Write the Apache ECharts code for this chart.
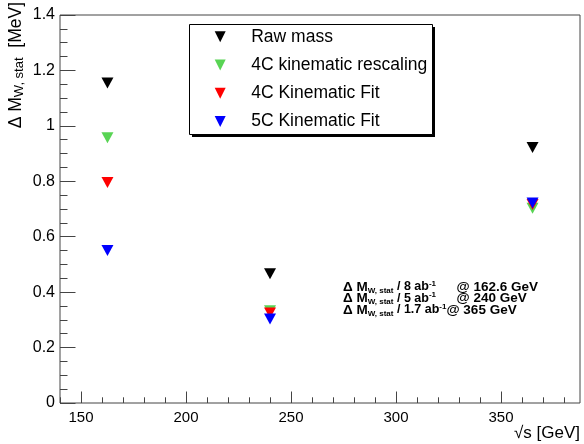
<!DOCTYPE html>
<html>
<head>
<meta charset="utf-8">
<script src="https://cdn.jsdelivr.net/npm/echarts@6/dist/echarts.min.js"></script>
<style>html,body{margin:0;padding:0;background:#fff}#c{width:584px;height:444px}</style>
</head>
<body>
<div id="c"></div>
<script>
// ---- data ----
var energies = [162.6, 240, 365];
var seriesNames = ['Raw mass', '4C kinematic rescaling', '4C Kinematic Fit', '5C Kinematic Fit'];
var rawMass = [1.155, 0.466, 0.922];
var kinRescale4C = [0.957, 0.333, 0.703];
var kinFit4C = [0.796, 0.325, 0.716];
var kinFit5C = [0.55, 0.303, 0.722];
var seriesColors = ['#000000', '#59d454', '#ff0000', '#0000ff'];
var xMajorTicks = [150, 200, 250, 300, 350];
var xMinorTicks = [140, 150, 160, 170, 180, 190, 200, 210, 220, 230, 240, 250, 260, 270, 280, 290, 300, 310, 320, 330, 340, 350, 360, 370, 380];
var lumiLabels = ['8', '5', '1.7'];
var energyLabels = ['162.6 GeV', '240 GeV', '365 GeV'];

var FONT = 'Liberation Sans';
var values = [rawMass, kinRescale4C, kinFit4C, kinFit5C];

function pts(arr) { return energies.map(function (e, i) { return [e, arr[i]]; }); }

var series = seriesNames.map(function (n, k) {
  return {
    name: n, type: 'scatter', xAxisIndex: 0, yAxisIndex: 0,
    data: pts(values[k]),
    symbol: 'triangle', symbolRotate: 180, symbolSize: [12, 11],
    itemStyle: { color: seriesColors[k], opacity: 1 },
    emphasis: { disabled: true }
  };
});

var G_LEFT = 60, G_TOP = 15, G_RIGHT = 580, G_BOTTOM = 403;

var annot = [];
var rowY = [287, 298.5, 310];
var rich = {
  b: { fontFamily: FONT, fontWeight: 'bold', fontSize: 13.5, lineHeight: 15, fill: '#000' },
  s: { fontFamily: FONT, fontWeight: 'bold', fontSize: 12.5, lineHeight: 15, fill: '#000' },
  sub: { fontFamily: FONT, fontWeight: 'bold', fontSize: 8, lineHeight: 8, verticalAlign: 'bottom', fill: '#000' },
  sup: { fontFamily: FONT, fontWeight: 'bold', fontSize: 8, lineHeight: 8, verticalAlign: 'top', fill: '#000' }
};
for (var i = 0; i < 3; i++) {
  var txt = '{b|Δ M}{sub|W, stat}{s| / ' + lumiLabels[i] + ' ab}{sup|-1}';
  if (i === 2) txt += '{b|@ ' + energyLabels[i] + '}';
  annot.push({
    type: 'text', x: 343, y: rowY[i], z: 100,
    style: { text: txt, rich: rich, verticalAlign: 'middle', align: 'left' }
  });
  if (i < 2) {
    annot.push({
      type: 'text', x: 456.5, y: rowY[i], z: 100,
      style: { text: '{b|@ ' + energyLabels[i] + '}', rich: rich, verticalAlign: 'middle', align: 'left' }
    });
  }
}

var graphics = [
  // legend shadow and box
  { type: 'rect', shape: { x: 192, y: 27, width: 243, height: 110 }, style: { fill: '#000' }, z: 1 },
  { type: 'rect', shape: { x: 189.5, y: 24.5, width: 243, height: 110 }, style: { fill: '#fff', stroke: '#000', lineWidth: 1 }, z: 2 },
  // y axis title
  { type: 'text', x: 16, y: 2, rotation: Math.PI / 2, z: 100,
    style: { text: '{a|Δ M}{s|W, stat}{a|  [MeV]}', align: 'right', verticalAlign: 'middle',
      rich: {
        a: { fontFamily: FONT, fontSize: 17.5, lineHeight: 20, fill: '#000' },
        s: { fontFamily: FONT, fontSize: 13, lineHeight: 12, verticalAlign: 'bottom', fill: '#000' }
      } } },
  // x axis title
  { type: 'text', x: 580, y: 433, z: 100,
    style: { text: '√s [GeV]', fontFamily: FONT, fontSize: 17, fill: '#000', align: 'right', verticalAlign: 'middle' } }
].concat(annot);

var chart = echarts.init(document.getElementById('c'), null, { renderer: 'canvas' });
chart.setOption({
  animation: false,
  backgroundColor: '#fff',
  grid: { left: G_LEFT, top: G_TOP, width: G_RIGHT - G_LEFT, height: G_BOTTOM - G_TOP, show: true, borderColor: '#444', borderWidth: 1, backgroundColor: 'transparent' },
  legend: {
    orient: 'vertical', left: 214.7, top: 27.7, padding: 0, z: 10,
    itemWidth: 12, itemHeight: 11, itemGap: 10.3,
    data: seriesNames.map(function (n) { return { name: n, icon: 'path://M0,0L10,0L5,10Z' }; }),
    textStyle: { fontFamily: FONT, fontSize: 17.5, lineHeight: 18, color: '#000', padding: [0, 0, 0, 20] },
    selectedMode: false
  },
  xAxis: [
    { type: 'value', min: 140, max: 387.6, position: 'bottom',
      axisLine: { show: false }, splitLine: { show: false },
      axisTick: { show: true, inside: true, length: 11.5, customValues: xMajorTicks, lineStyle: { color: '#444' } },
      axisLabel: { show: true, customValues: xMajorTicks, fontFamily: FONT, fontSize: 15, color: '#000', margin: 7 } },
    { type: 'value', min: 140, max: 387.6, position: 'bottom',
      axisLine: { show: false }, splitLine: { show: false }, axisLabel: { show: false },
      axisTick: { show: true, inside: true, length: 5.7, customValues: xMinorTicks, lineStyle: { color: '#444' } } }
  ],
  yAxis: [
    { type: 'value', min: 0, max: 1.4, interval: 0.2, position: 'left',
      axisLine: { show: false }, splitLine: { show: false },
      axisTick: { show: true, inside: true, length: 15.5, lineStyle: { color: '#444' } },
      axisLabel: { fontFamily: FONT, fontSize: 16, color: '#000', margin: 5 } },
    { type: 'value', min: 0, max: 1.4, interval: 0.05, position: 'left',
      axisLine: { show: false }, splitLine: { show: false }, axisLabel: { show: false },
      axisTick: { show: true, inside: true, length: 7.5, lineStyle: { color: '#444' } } }
  ],
  series: series,
  graphic: graphics
});
</script>
</body>
</html>
